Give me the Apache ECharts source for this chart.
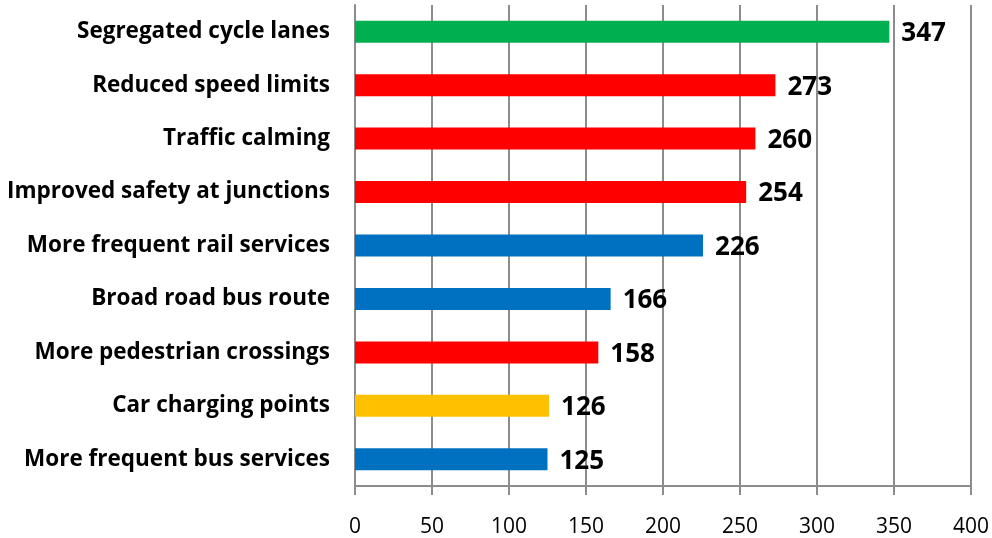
<!DOCTYPE html>
<html>
    <head>
        <meta charset="UTF-8">
        <title>Measures</title>
        <script src="https://cdn.jsdelivr.net/npm/echarts@6/dist/echarts.min.js"></script>
        <style>
            html, body { margin: 0; padding: 0; background: #fff; }
            #chart { width: 992px; height: 538px; }
        </style>
    </head>
    <body>
        <div id="chart"></div>
        <script>
            // bottom to top, as the category axis draws them
            const categories = [
                'More frequent bus services',
                'Car charging points',
                'More pedestrian crossings',
                'Broad road bus route',
                'More frequent rail services',
                'Improved safety at junctions',
                'Traffic calming',
                'Reduced speed limits',
                'Segregated cycle lanes'
            ];
            const values = [125, 126, 158, 166, 226, 254, 260, 273, 347];
            const groups = ['public', 'car', 'safety', 'public', 'public', 'safety', 'safety', 'safety', 'cycle'];
            const xTicks = [0, 50, 100, 150, 200, 250, 300, 350, 400];

            const groupColors = {
                cycle: '#00b050',
                safety: '#ff0000',
                public: '#0070c0',
                car: '#ffc000'
            };
            const font = '"Open Sans", Lato, sans-serif';

            const chart = echarts.init(document.getElementById('chart'));
            chart.setOption({
                animation: false,
                grid: { left: 355, right: 20, top: 5, bottom: 48, containLabel: false },
                xAxis: {
                    type: 'value',
                    min: xTicks[0],
                    max: xTicks[xTicks.length - 1],
                    interval: 50,
                    axisLine: { show: true, lineStyle: { color: '#8c8c8c', width: 2 } },
                    axisTick: { show: true, length: 9, lineStyle: { color: '#8c8c8c', width: 2 } },
                    splitLine: { show: true, lineStyle: { color: '#8c8c8c', width: 2 } },
                    axisLabel: { color: '#000', fontFamily: font, fontSize: 21, margin: 31 }
                },
                yAxis: {
                    type: 'category',
                    data: categories,
                    axisLine: { show: true, lineStyle: { color: '#8c8c8c', width: 2 } },
                    axisTick: { show: false },
                    axisLabel: { color: '#000', fontFamily: font, fontSize: 22.5, fontWeight: 'bold', margin: 25 }
                },
                series: [{
                    type: 'bar',
                    data: values.map((v, i) => ({ value: v, itemStyle: { color: groupColors[groups[i]] } })),
                    barWidth: 22,
                    label: {
                        show: true,
                        position: 'right',
                        distance: 12,
                        color: '#000',
                        fontFamily: font,
                        fontSize: 26,
                        fontWeight: 'bold',
                        offset: [0, 2]
                    }
                }]
            });
        </script>
    </body>
</html>
